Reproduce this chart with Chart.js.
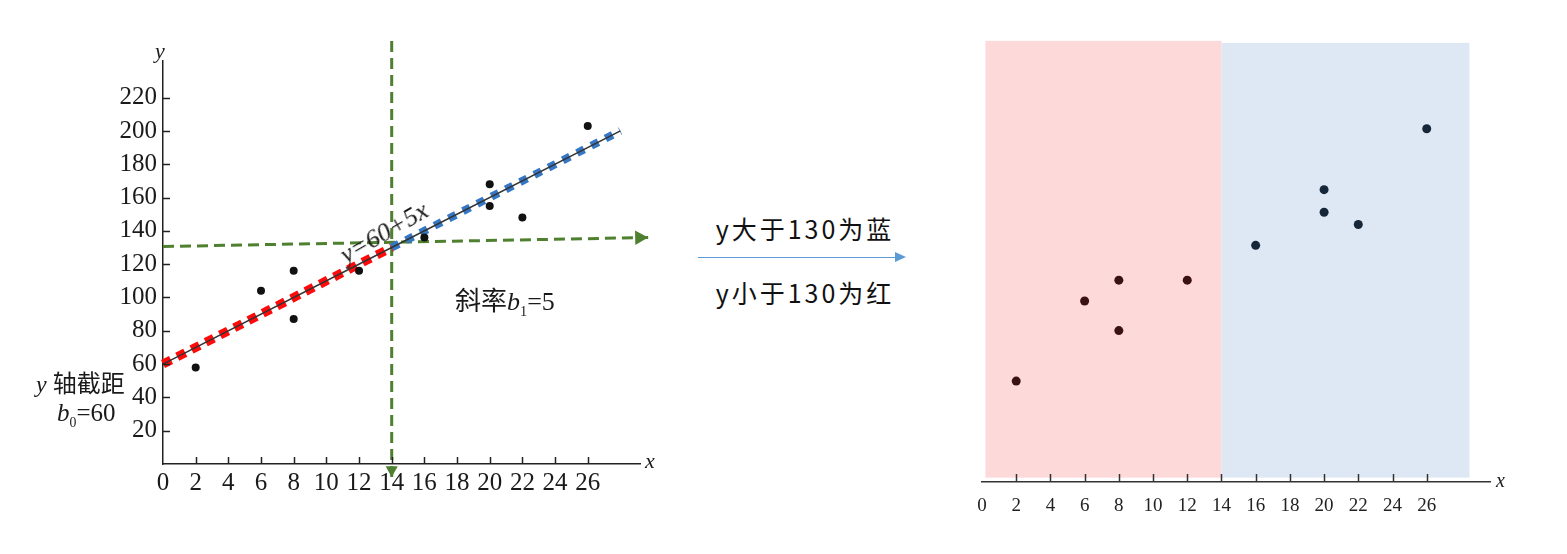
<!DOCTYPE html>
<html>
<head>
<meta charset="utf-8">
<script src="https://cdn.jsdelivr.net/npm/chart.js@4.4.1/dist/chart.umd.min.js"></script>
<style>
    html, body { margin: 0; padding: 0; background: #fff; }
    body { width: 1567px; height: 554px; position: relative; overflow: hidden; }
    canvas { position: absolute; top: 0; }
    #leftChart { left: 0; }
    #rightChart { left: 940px; }
    .lbl { position: absolute; white-space: nowrap; color: #1a1a1a; font-family: "Liberation Serif", "Noto Sans CJK SC", serif; line-height: 1; }
    .it { font-style: italic; }
    .mid { position: absolute; left: 690px; width: 230px; text-align: center; font-family: "Noto Sans CJK SC", sans-serif; font-size: 25px; letter-spacing: 3px; color: #111; line-height: 1; }
    .arrow { position: absolute; left: 698px; top: 257px; width: 198px; height: 0; border-top: 1.5px solid #5b9bd5; }
    .arrow:after { content: ""; position: absolute; right: -10px; top: -6.5px; border-left: 11px solid #5b9bd5; border-top: 5.5px solid transparent; border-bottom: 5.5px solid transparent; }
    sub { font-size: 55%; font-style: normal; vertical-align: -6px; }
</style>
</head>
<body>
<canvas id="leftChart" width="690" height="554"></canvas>
<canvas id="rightChart" width="600" height="554"></canvas>

<div class="lbl it" style="left:155px;top:40px;font-size:22px;">y</div>
<div class="lbl it" style="left:645px;top:450px;font-size:22px;">x</div>
<div class="lbl it" style="left:342px;top:244px;font-size:26px;transform:rotate(-30deg);transform-origin:left center;">y=60+5x</div>
<div class="lbl" style="left:455px;top:289px;font-size:26px;">斜率<span class="it">b</span><sub>1</sub>=5</div>
<div class="lbl" style="left:36px;top:372px;font-size:24px;"><span class="it">y</span> 轴截距</div>
<div class="lbl" style="left:57px;top:400px;font-size:25px;"><span class="it">b</span><sub>0</sub>=60</div>

<div class="mid" style="top:216px;">y大于130为蓝</div>
<div class="arrow"></div>
<div class="mid" style="top:280px;">y小于130为红</div>

<div class="lbl it" style="left:1496px;top:470px;font-size:20px;">x</div>

<script>
// sample points
const xValues = [2, 6, 8, 8, 12, 16, 20, 20, 22, 26]
const yValues = [58, 104, 116, 87, 116, 136, 168, 155, 148, 203]

// tick labels
const xTicks = [0, 2, 4, 6, 8, 10, 12, 14, 16, 18, 20, 22, 24, 26]
const yTicks = [20, 40, 60, 80, 100, 120, 140, 160, 180, 200, 220]

// fitted line y = 60 + 5x, read at three x positions
const fitX = [0, 14, 28]
const fitY = [60, 130, 200]

// green guide lines
const guideVX = [14, 14]
const guideVY = [254, -8]
const guideHX = [0, 29.7]
const guideHY = [130.6, 136]

// split for the right chart
const splitX = 14
const bandRed = [0.2, 14]
const bandBlue = [14, 28.5]
const bandY = [2.5, 253.5]

const serif = "'Liberation Serif', 'Times New Roman', serif"

function pts(xs, ys) {
    return xs.map((x, i) => ({ x: x, y: ys[i] }))
}

const arrowPlugin = {
    id: 'arrows',
    afterDatasetsDraw(chart) {
        const ctx = chart.ctx
        chart.data.datasets.forEach((ds, i) => {
            if (!ds.arrow) return
            const data = chart.getDatasetMeta(i).data
            const a = data[data.length - 2]
            const b = data[data.length - 1]
            const ang = Math.atan2(b.y - a.y, b.x - a.x)
            const len = ds.arrow
            ctx.save()
            ctx.fillStyle = ds.borderColor
            ctx.translate(b.x, b.y)
            ctx.rotate(ang)
            ctx.beginPath()
            ctx.moveTo(0, 0)
            ctx.lineTo(-len, -len * 0.55)
            ctx.lineTo(-len, len * 0.55)
            ctx.closePath()
            ctx.fill()
            ctx.restore()
        })
    }
}

// tick marks drawn inside the plot area
function innerTicks(xMarks, yMarks, len, color) {
    return {
        id: 'innerTicks',
        afterDraw(chart) {
            const ctx = chart.ctx
            const xs = chart.scales.x
            const ys = chart.scales.y
            const area = chart.chartArea
            ctx.save()
            ctx.strokeStyle = color
            ctx.lineWidth = 1.5
            ctx.beginPath()
            xMarks.forEach(v => {
                const px = Math.round(xs.getPixelForValue(v)) + 0.5
                ctx.moveTo(px, area.bottom)
                ctx.lineTo(px, area.bottom - len)
            })
            yMarks.forEach(v => {
                const py = Math.round(ys.getPixelForValue(v)) + 0.5
                ctx.moveTo(area.left, py)
                ctx.lineTo(area.left + len, py)
            })
            ctx.stroke()
            ctx.restore()
        }
    }
}

const bandPlugin = {
    id: 'bands',
    beforeDatasetsDraw(chart) {
        const ctx = chart.ctx
        const xs = chart.scales.x
        const ys = chart.scales.y
        const top = ys.getPixelForValue(bandY[1])
        const bottom = ys.getPixelForValue(bandY[0])
        ctx.save()
        ctx.fillStyle = '#fdd9da'
        let l = xs.getPixelForValue(bandRed[0]), r = xs.getPixelForValue(bandRed[1])
        ctx.fillRect(l, top, r - l, bottom - top)
        ctx.fillStyle = '#dee8f4'
        l = xs.getPixelForValue(bandBlue[0]); r = xs.getPixelForValue(bandBlue[1])
        ctx.fillRect(l, top + 2, r - l, bottom - top - 2)
        ctx.restore()
    }
}

function lineSet(xs, ys, color, width, dash, extra) {
    return Object.assign({
        data: pts(xs, ys),
        showLine: true,
        borderColor: color,
        backgroundColor: color,
        borderWidth: width,
        borderDash: dash,
        borderCapStyle: 'butt',
        pointRadius: 0,
        clip: false
    }, extra || {})
}

function leftChart() {
    const ctx = document.getElementById('leftChart')
    new Chart(ctx, {
        type: 'scatter',
        data: {
            datasets: [
                { data: pts(xValues, yValues), pointRadius: 4, pointBackgroundColor: '#111', pointBorderWidth: 0 },
                lineSet(fitX, fitY, '#333', 1.5, []),
                lineSet(fitX.slice(0, 2), fitY.slice(0, 2), '#ff0a0a', 9, [9, 7]),
                lineSet(fitX.slice(1), fitY.slice(1), '#3577c4', 8, [8, 8]),
                lineSet(guideVX, guideVY, '#4f8030', 3, [11, 6], { arrow: 11 }),
                lineSet(guideHX, guideHY, '#4f8030', 3, [11, 6], { arrow: 13 })
            ]
        },
        options: {
            responsive: false,
            animation: false,
            events: [],
            layout: { padding: { left: 93, top: 61, right: 50, bottom: 0 } },
            plugins: { legend: { display: false }, tooltip: { enabled: false } },
            scales: {
                x: {
                    type: 'linear',
                    min: 0,
                    max: 29.2,
                    afterFit: s => { s.height = 90 },
                    afterBuildTicks: s => { s.ticks = xTicks.map(v => ({ value: v })) },
                    grid: { display: false, drawTicks: false },
                    border: { color: '#222', width: 1.5 },
                    ticks: { padding: 4, color: '#1a1a1a', font: { family: serif, size: 25 }, autoSkip: false, maxRotation: 0 }
                },
                y: {
                    type: 'linear',
                    min: 0,
                    max: 242,
                    afterFit: s => { s.width = 70 },
                    afterBuildTicks: s => { s.ticks = yTicks.map(v => ({ value: v })) },
                    grid: { display: false, drawTicks: false },
                    border: { color: '#222', width: 1.5 },
                    ticks: { padding: 6, color: '#1a1a1a', font: { family: serif, size: 25 }, autoSkip: false }
                }
            }
        },
        plugins: [arrowPlugin, innerTicks(xTicks.slice(1), yTicks, 7, '#222')]
    })
}

function rightChart() {
    const ctx = document.getElementById('rightChart')
    const low = xValues.map((x, i) => ({ x: x, y: yValues[i] })).filter(p => p.x < splitX)
    const high = xValues.map((x, i) => ({ x: x, y: yValues[i] })).filter(p => p.x >= splitX)
    new Chart(ctx, {
        type: 'scatter',
        data: {
            datasets: [
                { data: low, pointRadius: 4.5, pointBackgroundColor: '#3a1214', pointBorderWidth: 0 },
                { data: high, pointRadius: 4.5, pointBackgroundColor: '#17273a', pointBorderWidth: 0 }
            ]
        },
        options: {
            responsive: false,
            animation: false,
            events: [],
            layout: { padding: { left: 42, top: 40, right: 50, bottom: 0 } },
            plugins: { legend: { display: false }, tooltip: { enabled: false } },
            scales: {
                x: {
                    type: 'linear',
                    min: 0,
                    max: 29.7,
                    afterFit: s => { s.height = 72 },
                    afterBuildTicks: s => { s.ticks = xTicks.map(v => ({ value: v })) },
                    grid: { display: false, drawTicks: false },
                    border: { color: '#333', width: 1.5 },
                    ticks: { padding: 13, color: '#222', font: { family: serif, size: 19 }, autoSkip: false, maxRotation: 0 }
                },
                y: {
                    type: 'linear',
                    display: false,
                    min: 0,
                    max: 254
                }
            }
        },
        plugins: [bandPlugin, innerTicks(xTicks.slice(1), [], 8, '#333')]
    })
}

leftChart()
rightChart()
</script>
</body>
</html>
